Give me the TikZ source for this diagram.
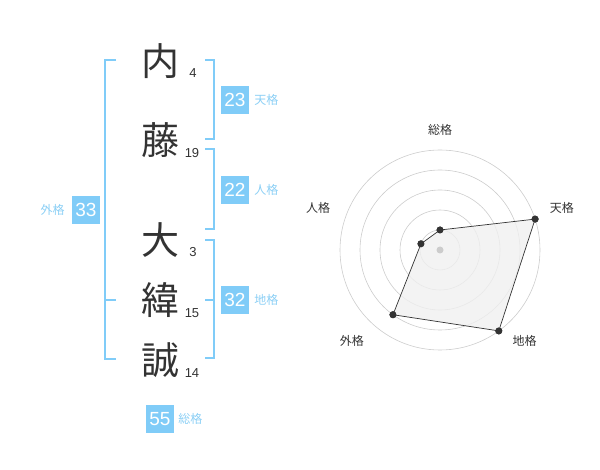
\documentclass[tikz,border=0pt]{standalone}
\usepackage{fontspec}
\setmainfont{Liberation Sans}
\newfontfamily\jpfont{Noto Sans CJK JP}
\usetikzlibrary{positioning,calc}
\definecolor{kakublue}{HTML}{80CCF8}
\definecolor{kakutext}{HTML}{8BCFF5}
\definecolor{inkgray}{HTML}{333333}
\definecolor{ringgray}{HTML}{CCCCCC}

\begin{document}
\begin{tikzpicture}[x=1pt,y=-1pt,
  kanji/.style={text=inkgray,inner sep=0pt,font=\jpfont\fontsize{38}{38}\selectfont},
  strokes/.style={text=inkgray,inner sep=0pt,font=\fontsize{13}{13}\selectfont},
  kakubox/.style={fill=kakublue,text=white,minimum size=28pt,inner sep=0pt,font=\fontsize{19}{19}\selectfont},
  kakuname/.style={text=kakutext,inner sep=0pt,font=\jpfont\fontsize{12}{12}\selectfont},
  bracket/.style={draw=kakublue,line width=1.5pt},
  axis/.style={text=inkgray,inner sep=0pt,font=\jpfont\fontsize{12}{12}\selectfont},
  ring/.style={draw=ringgray,line width=0.6pt},
  dot/.style={circle,fill=inkgray,inner sep=0pt,minimum size=7pt}]
  \useasboundingbox (0,0) rectangle (600,470);

  % name
  \node[kanji] (k1) at (160,61) {内};
  \node[kanji] (k2) at (160,140) {藤};
  \node[kanji] (k3) at (160,240) {大};
  \node[kanji] (k4) at (160,300) {緯};
  \node[kanji] (k5) at (160,360) {誠};
  \node[strokes] (n1) at (193,73) {4};
  \node[strokes] (n2) at (192,153) {19};
  \node[strokes] (n3) at (193,252) {3};
  \node[strokes] (n4) at (192,313) {15};
  \node[strokes] (n5) at (192,373) {14};

  % brackets
  \draw[bracket] (116,60) -- (105,60) -- (105,359) -- (116,359);
  \draw[bracket] (105,300) -- (116,300);
  \draw[bracket] (205,60) -- (214,60) -- (214,139) -- (205,139);
  \draw[bracket] (205,149) -- (214,149) -- (214,229) -- (205,229);
  \draw[bracket] (205,240) -- (214,240) -- (214,358) -- (205,358);
  \draw[bracket] (214,300) -- (205,300);

  % scores
  \node[kakubox] (ten) at (235,100) {23};
  \node[kakuname] (tenl) [right=5pt of ten] {天格};
  \node[kakubox] (jin) at (235,190) {22};
  \node[kakuname] (jinl) [right=5pt of jin] {人格};
  \node[kakubox] (chi) at (235,300) {32};
  \node[kakuname] (chil) [right=5pt of chi] {地格};
  \node[kakubox] (gai) at (86,210) {33};
  \node[kakuname] (gail) [left=7pt of gai] {外格};
  \node[kakubox] (sou) at (160,419) {55};
  \node[kakuname] (soul) [right=4pt of sou] {総格};

  % radar
  \coordinate (o) at (440,250);
  \foreach \r in {20,40,...,100}
    \draw[ring] (o) circle[radius=\r pt];
  \node[dot] (p1) at ($(o)+(90:20pt)$) {};
  \node[dot] (p2) at ($(o)+(18:100pt)$) {};
  \node[dot] (p3) at ($(o)+(-54:100pt)$) {};
  \node[dot] (p4) at ($(o)+(-126:80pt)$) {};
  \node[dot] (p5) at ($(o)+(162:20pt)$) {};
  \draw[inkgray,fill=black!6,fill opacity=0.8,line width=0.7pt]
    (p1.center) -- (p2.center) -- (p3.center) -- (p4.center) -- (p5.center) -- cycle;
  \fill[ringgray] (o) circle[radius=3.5pt];
  \foreach \p in {p1,p2,p3,p4,p5}
    \fill[inkgray] (\p) circle[radius=3.5pt];
  \node[axis] (a1) at ($(o)+(90:120pt)$) {総格};
  \node[axis] (a2) at ($(o)+(19:129pt)$) {天格};
  \node[axis] (a3) at ($(o)+(-47:124pt)$) {地格};
  \node[axis] (a4) at ($(o)+(-134:127pt)$) {外格};
  \node[axis] (a5) at ($(o)+(161:129pt)$) {人格};
\end{tikzpicture}
\end{document}
